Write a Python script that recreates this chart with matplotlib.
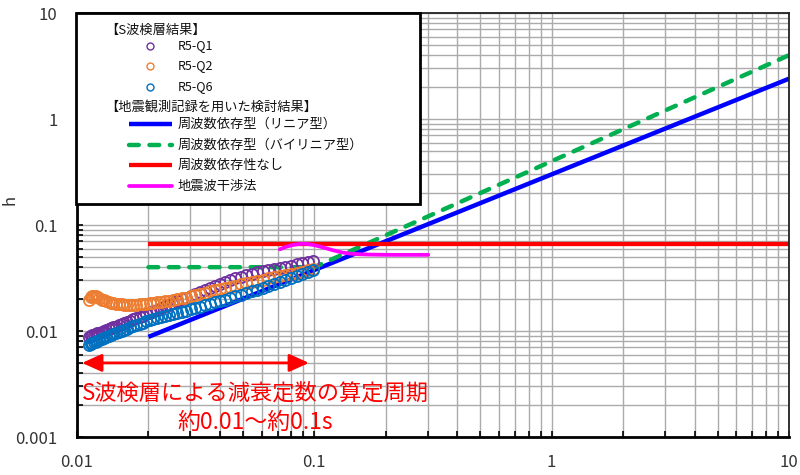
import matplotlib
matplotlib.use("Agg")
import matplotlib.pyplot as plt
from matplotlib.patches import Rectangle
from matplotlib.lines import Line2D
from matplotlib.ticker import FixedLocator, FixedFormatter, LogLocator, NullFormatter

plt.rcParams['font.family'] = ['Noto Sans CJK JP', 'DejaVu Sans']

# ---------------- data ----------------
# S-wave logging results (period [s], damping h)
T_s = [0.0112, 0.0114, 0.0116, 0.0118, 0.0120, 0.0122, 0.0124, 0.0127, 0.0130, 0.0133,
       0.0136, 0.0139, 0.0142, 0.0146, 0.0150, 0.0154, 0.0158, 0.0163, 0.0168, 0.0173,
       0.0178, 0.0184, 0.0190, 0.0196, 0.0203, 0.0210, 0.0218, 0.0226, 0.0235, 0.0244,
       0.0254, 0.0265, 0.0276, 0.0288, 0.0301, 0.0315, 0.0330, 0.0346, 0.0363, 0.0381,
       0.0400, 0.0420, 0.0442, 0.0465, 0.0490, 0.0516, 0.0544, 0.0574, 0.0606, 0.0640,
       0.0676, 0.0714, 0.0754, 0.0797, 0.0842, 0.0890, 0.0940, 0.0990]
h_Q1 = [0.0088, 0.0089, 0.0091, 0.0092, 0.0093, 0.0095, 0.0096, 0.0098, 0.0100, 0.0102,
        0.0104, 0.0106, 0.0108, 0.0110, 0.0113, 0.0116, 0.0119, 0.0122, 0.0125, 0.0129,
        0.0132, 0.0136, 0.0140, 0.0144, 0.0149, 0.0154, 0.0159, 0.0165, 0.0171, 0.0177,
        0.0184, 0.0191, 0.0199, 0.0207, 0.0216, 0.0225, 0.0235, 0.0245, 0.0256, 0.0268,
        0.0280, 0.0290, 0.0301, 0.0313, 0.0325, 0.0337, 0.0348, 0.0360, 0.0370, 0.0378,
        0.0385, 0.0394, 0.0404, 0.0414, 0.0426, 0.0438, 0.0449, 0.0460]
h_Q2 = [0.0196, 0.0208, 0.0215, 0.0216, 0.0213, 0.0208, 0.0203, 0.0198, 0.0194, 0.0190,
        0.0187, 0.0185, 0.0183, 0.0181, 0.0179, 0.0178, 0.0177, 0.0177, 0.0177, 0.0177,
        0.0177, 0.0178, 0.0179, 0.0180, 0.0182, 0.0184, 0.0186, 0.0188, 0.0190, 0.0193,
        0.0196, 0.0199, 0.0203, 0.0207, 0.0212, 0.0217, 0.0223, 0.0230, 0.0236, 0.0242,
        0.0248, 0.0254, 0.0261, 0.0268, 0.0275, 0.0282, 0.0290, 0.0297, 0.0305, 0.0313,
        0.0321, 0.0329, 0.0337, 0.0346, 0.0355, 0.0364, 0.0374, 0.0385]
h_Q6 = [0.0074, 0.0075, 0.0077, 0.0078, 0.0079, 0.0080, 0.0082, 0.0084, 0.0085, 0.0087,
        0.0089, 0.0091, 0.0093, 0.0095, 0.0098, 0.0100, 0.0102, 0.0105, 0.0108, 0.0111,
        0.0113, 0.0117, 0.0120, 0.0123, 0.0126, 0.0129, 0.0132, 0.0135, 0.0138, 0.0141,
        0.0145, 0.0148, 0.0152, 0.0156, 0.0160, 0.0165, 0.0170, 0.0175, 0.0181, 0.0186,
        0.0192, 0.0198, 0.0205, 0.0212, 0.0219, 0.0227, 0.0236, 0.0245, 0.0255, 0.0266,
        0.0278, 0.0291, 0.0304, 0.0319, 0.0333, 0.0347, 0.0361, 0.0375]

# Results from earthquake observation records
T_lin = [0.02, 10.0]
h_lin = [0.0088, 2.4]
T_bil = [0.02, 0.1, 10.0]
h_bil = [0.04, 0.04, 4.0]
T_const = [0.02, 10.0]
h_const = [0.066, 0.066]
T_int = [0.0716, 0.076, 0.0813, 0.0855, 0.0896, 0.0940, 0.0984, 0.105, 0.1122, 0.120,
         0.1318, 0.143, 0.155, 0.17, 0.19, 0.2146, 0.24, 0.27, 0.302]
h_int = [0.0590, 0.0622, 0.0649, 0.0660, 0.0665, 0.0662, 0.0650, 0.0628, 0.0603, 0.0577,
         0.0549, 0.0536, 0.0530, 0.0526, 0.0524, 0.0523, 0.0523, 0.0523, 0.0523]

# arrow span (period range of S-wave logging)
T_arrow = [0.0105, 0.095]
h_arrow = 0.005

x_ticks = [0.01, 0.1, 1, 10]
x_labels = ['0.01', '0.1', '1', '10']
y_ticks = [0.001, 0.01, 0.1, 1, 10]
y_labels = ['0.001', '0.01', '0.1', '1', '10']

scatter_names = ['R5-Q1', 'R5-Q2', 'R5-Q6']
scatter_colors = ['#7030A0', '#ED7D31', '#0070C0']
line_names = ['周波数依存型（リニア型）', '周波数依存型（バイリニア型）', '周波数依存性なし', '地震波干渉法']
header1 = '【S波検層結果】'
header2 = '【地震観測記録を用いた検討結果】'
note1 = 'S波検層による減衰定数の算定周期'
note2 = '約0.01～約0.1s'

# ---------------- figure ----------------
fig = plt.figure(figsize=(8, 4.75), dpi=100)
ax = fig.add_axes([77/800, 38/475, 712/800, 424/475])
ax.set_xscale('log')
ax.set_yscale('log')
ax.set_xlim(0.01, 10)
ax.set_ylim(0.001, 10)

ax.xaxis.set_major_locator(FixedLocator(x_ticks))
ax.xaxis.set_major_formatter(FixedFormatter(x_labels))
ax.yaxis.set_major_locator(FixedLocator(y_ticks))
ax.yaxis.set_major_formatter(FixedFormatter(y_labels))
ax.xaxis.set_minor_locator(LogLocator(base=10, subs=range(2, 10), numticks=20))
ax.yaxis.set_minor_locator(LogLocator(base=10, subs=range(2, 10), numticks=20))
ax.xaxis.set_minor_formatter(NullFormatter())
ax.yaxis.set_minor_formatter(NullFormatter())

ax.grid(which='both', color='#ABABAB', lw=1.0)
ax.set_axisbelow(True)
ax.tick_params(which='both', direction='in', length=4, width=1.2, color='black',
               top=False, right=False)
ax.tick_params(axis='both', which='major', labelsize=12, labelcolor='#333333')
ax.tick_params(axis='x', which='major', pad=12)
ax.tick_params(axis='y', which='major', pad=14)
for s in ['left', 'bottom']:
    ax.spines[s].set_linewidth(2.0)
    ax.spines[s].set_color('black')
for s in ['top', 'right']:
    ax.spines[s].set_linewidth(1.3)
    ax.spines[s].set_color('#222222')

# lines
ax.plot(T_lin, h_lin, color='#0000FF', lw=3.2, solid_capstyle='butt', zorder=2)
ax.plot(T_bil, h_bil, color='#00B050', lw=3.2, linestyle=(0, (2.2, 2.4)),
        dash_capstyle='round', zorder=2)
ax.plot(T_const, h_const, color='#FF0000', lw=3.1, solid_capstyle='butt', zorder=2)
ax.plot(T_int, h_int, color='#FF00FF', lw=2.7, solid_capstyle='round', zorder=2)

# scatter
for hv, c in zip([h_Q1, h_Q2, h_Q6], scatter_colors):
    ax.plot(T_s, hv, linestyle='none', marker='o', ms=8, mfc='none', mec=c, mew=1.3, zorder=3)

# arrow & note
ax.annotate('', xy=(T_arrow[1], h_arrow), xytext=(T_arrow[0], h_arrow),
            arrowprops=dict(arrowstyle='<|-|>,head_length=0.4,head_width=0.18',
                            color='#FF0000', lw=2, mutation_scale=30,
                            shrinkA=0, shrinkB=0), zorder=4)
ax.text(0.25, (437-393)/424, note1, transform=ax.transAxes, ha='center', va='center',
        fontsize=16, color='#FF0000', zorder=4)
ax.text(0.25, (437-422)/424, note2, transform=ax.transAxes, ha='center', va='center',
        fontsize=16.5, color='#FF0000', zorder=4)

# legend (drawn manually)
def fx(px):
    return (px - 77) / 712
def fy(py):
    return (437 - py) / 424

box = Rectangle((fx(76), fy(204)), fx(420) - fx(76), fy(13) - fy(204), transform=ax.transAxes,
                facecolor='white', edgecolor='black', lw=2.0, zorder=10, clip_on=False)
ax.add_patch(box)
ax.text(fx(105), fy(30), header1, transform=ax.transAxes, ha='left', va='center',
        fontsize=9.5, color='#111111', zorder=11)
for i, (nm, c) in enumerate(zip(scatter_names, scatter_colors)):
    yy = fy([46, 66, 87][i])
    ax.add_line(Line2D([fx(150)], [yy], transform=ax.transAxes, linestyle='none', marker='o',
                       ms=5, mfc='none', mec=c, mew=1.0, zorder=11, clip_on=False))
    ax.text(fx(178), yy, nm, transform=ax.transAxes, ha='left', va='center',
            fontsize=9, color='#111111', zorder=11)
ax.text(fx(105), fy(107), header2, transform=ax.transAxes, ha='left', va='center',
        fontsize=9.5, color='#111111', zorder=11)
styles = [dict(color='#0000FF', lw=3.2, solid_capstyle='butt'),
          dict(color='#00B050', lw=3.2, linestyle=(0, (2.2, 2.4)), dash_capstyle='round'),
          dict(color='#FF0000', lw=3.1, solid_capstyle='butt'),
          dict(color='#FF00FF', lw=2.7, solid_capstyle='round')]
for i, (nm, st) in enumerate(zip(line_names, styles)):
    yy = fy([124, 145, 165, 186][i])
    ax.add_line(Line2D([fx(129), fx(172)], [yy, yy], transform=ax.transAxes,
                       zorder=11, clip_on=False, **st))
    ax.text(fx(178), yy, nm, transform=ax.transAxes, ha='left', va='center',
            fontsize=9.5, color='#111111', zorder=11)

# y-axis label
fig.text(0.012, 0.58, 'h', rotation=90, ha='center', va='center', fontsize=12, color='#333333')

fig.savefig('out.png', dpi=100)
